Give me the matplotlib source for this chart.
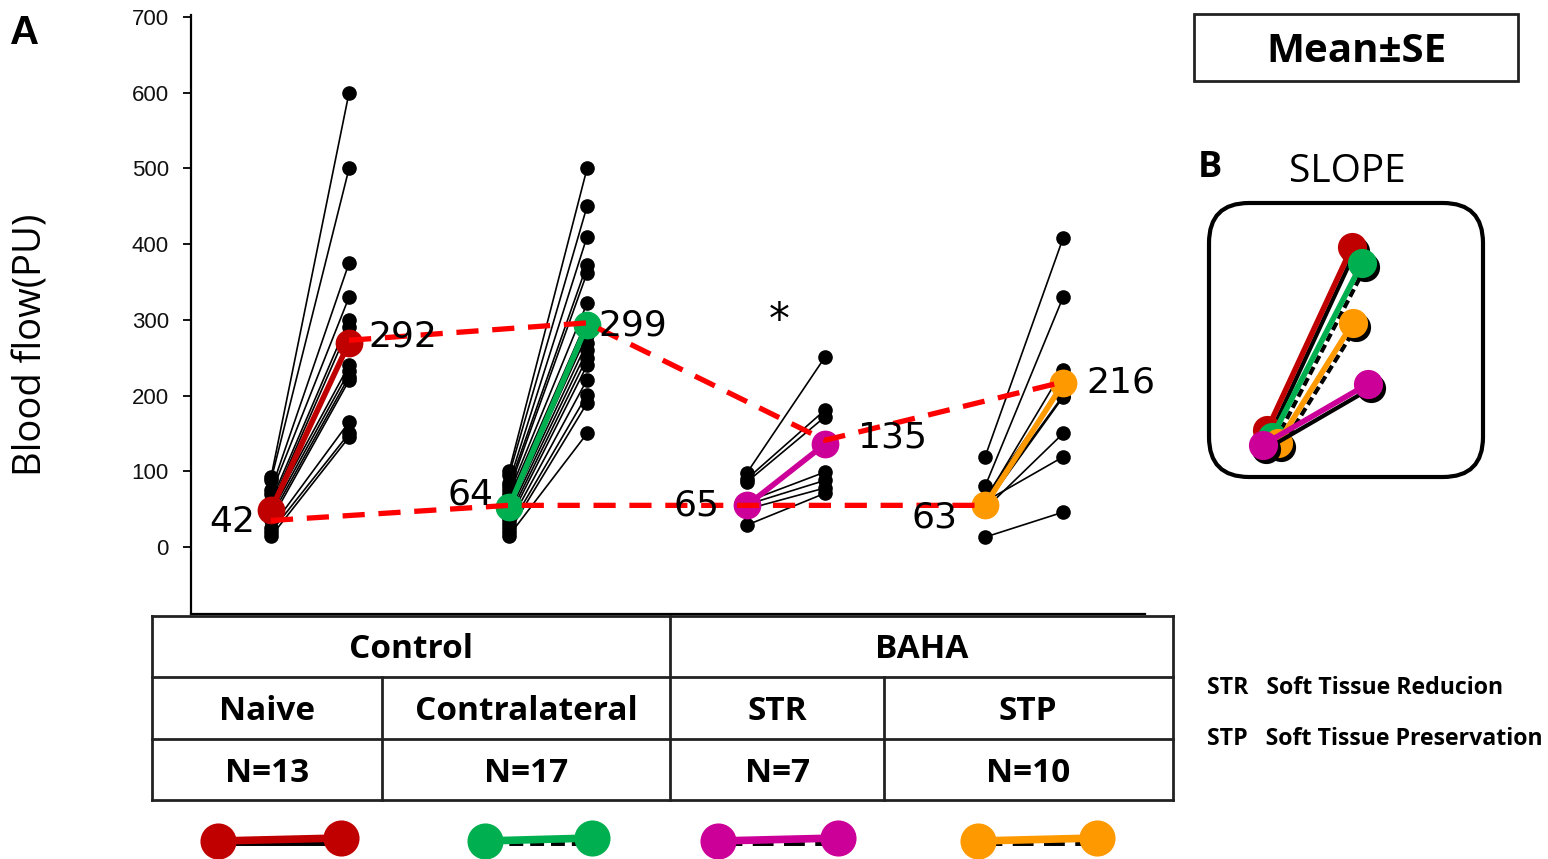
import matplotlib
matplotlib.use("Agg")
import matplotlib.pyplot as plt
from matplotlib.patches import FancyBboxPatch, Rectangle

# ---------------- data ----------------
groups = ["Naive", "Contralateral", "STR", "STP"]
group_n = ["N=13", "N=17", "N=7", "N=10"]
super_groups = ["Control", "BAHA"]
colors = ["#C00000", "#00B050", "#CC0099", "#FF9900"]

naive_pre = [92, 88, 75, 70, 60, 55, 50, 45, 40, 35, 25, 20, 14]
naive_post = [600, 500, 375, 330, 300, 290, 240, 232, 225, 220, 165, 150, 145]
contra_pre = [100, 95, 85, 80, 75, 70, 65, 60, 55, 50, 45, 40, 35, 30, 25, 20, 15]
contra_post = [500, 450, 410, 373, 362, 322, 300, 290, 280, 270, 260, 250, 240, 221, 201, 190, 150]
str_pre = [98, 90, 86, 60, 56, 50, 29]
str_post = [251, 181, 172, 99, 88, 78, 71]
stp_pre = [119, 80, 62, 56, 58, 55, 50, 60, 13, 65]
stp_post = [408, 330, 234, 220, 200, 198, 150, 119, 46, 215]
indiv_pre = [naive_pre, contra_pre, str_pre, stp_pre]
indiv_post = [naive_post, contra_post, str_post, stp_post]

mean_pre = [49, 53, 55, 55]
mean_post = [270, 293, 136, 216]
label_pre = ["42", "64", "65", "63"]
label_post = ["292", "299", "135", "216"]
trend_pre = [35, 55, 55, 55]
trend_post = [273, 296, 141, 218]

yticks = [0, 100, 200, 300, 400, 500, 600, 700]

# slope panel (panel units 0-100); drawing order: Naive, Contralateral, STP, STR
slope_order = [0, 1, 3, 2]
slope_x0 = [21.4, 23.2, 25.4, 19.9]
slope_y0 = [17.4, 14.9, 12.7, 12.0]
slope_x1 = [52.2, 55.8, 52.5, 58.0]
slope_y1 = [83.7, 77.9, 56.2, 34.1]

# ---------------- figure ----------------
W, H = 1548, 859
fig = plt.figure(figsize=(W / 100, H / 100), dpi=100)

ax = fig.add_axes([191 / W, 1 - 614 / H, (1145 - 191) / W, (614 - 15) / H])
ax.patch.set_alpha(0)
ax.set_xlim(-0.336, 3.672)
ax.set_ylim(-88.5, 702.6)
for s in ["top", "right"]:
    ax.spines[s].set_visible(False)
for s in ["left", "bottom"]:
    ax.spines[s].set_linewidth(1.6)
    ax.spines[s].set_color("black")
ax.set_xticks([])
ax.set_yticks(yticks)
ax.set_yticklabels([str(v) for v in yticks], fontfamily="Liberation Sans", fontsize=16, color="#111111")
ax.tick_params(axis="y", direction="out", length=6, width=1.3, pad=10)

dx = 0.328
for g in range(4):
    for a, b in zip(indiv_pre[g], indiv_post[g]):
        ax.plot([g, g + dx], [a, b], color="black", lw=1.2, marker="o", ms=9.5,
                markerfacecolor="black", markeredgecolor="black", zorder=2)
for g in range(4):
    ax.plot([g, g + dx], [mean_pre[g], mean_post[g]], color=colors[g], lw=4, marker="o",
            ms=20, markeredgewidth=0, zorder=4)

xs_pre = [g for g in range(4)]
xs_post = [g + dx for g in range(4)]
ax.plot(xs_pre, trend_pre, color="#FF0000", lw=3.8, ls=(0, (4.2, 2.6)), zorder=6)
ax.plot(xs_post, trend_post, color="#FF0000", lw=3.8, ls=(0, (4.2, 2.6)), zorder=6)

pre_off = [(-11, -9), (-11, 9), (-20, 0), (-20, -9)]
post_off = [(14, 4), (8, 0), (24, 5), (17, 1)]
for g in range(4):
    ax.annotate(label_pre[g], (g, mean_pre[g]), xytext=pre_off[g], textcoords="offset points",
                ha="right", va="center", fontsize=26, fontfamily="DejaVu Sans", zorder=7)
    ax.annotate(label_post[g], (g + dx, mean_post[g]), xytext=post_off[g], textcoords="offset points",
                ha="left", va="center", fontsize=26, fontfamily="DejaVu Sans", zorder=7)
ax.text(2.134, 298, "*", ha="center", va="center", fontsize=30, fontfamily="DejaVu Sans")

# ---------------- overlay (pixel coordinates) ----------------
ov = fig.add_axes([0, 0, 1, 1], zorder=5)
ov.patch.set_alpha(0)
ov.set_xlim(0, W)
ov.set_ylim(H, 0)
ov.axis("off")

tc = "#222222"
tlw = 2.0
for yy in [616, 677, 739, 800]:
    ov.plot([152, 1173], [yy, yy], color=tc, lw=tlw, solid_capstyle="projecting")
for xx in [152, 670, 1173]:
    ov.plot([xx, xx], [616, 800], color=tc, lw=tlw)
for xx in [382, 884]:
    ov.plot([xx, xx], [677, 800], color=tc, lw=tlw)

tf = dict(fontfamily="Open Sans", fontweight="bold", fontsize=24, ha="center", va="center")
ov.text(411, 649, super_groups[0], **tf)
ov.text(922, 649, super_groups[1], **tf)
col_c = [267, 526, 777, 1028]
for i in range(4):
    ov.text(col_c[i], 711, groups[i], **tf)
    ov.text(col_c[i], 773, group_n[i], **tf)

# legend icons under table
icon_l = [218, 485, 718, 978]
icon_r = [341, 592, 838, 1097]
icon_shadow = ["-", (0, (2, 1)), (0, (3, 1.5)), (0, (3, 1.5))]
for i in range(4):
    ov.plot([icon_l[i] + 3, icon_r[i] - 3], [842, 842], color="black", lw=5, ls=icon_shadow[i])
    ov.plot([icon_l[i], icon_r[i]], [841, 838], color=colors[i], lw=5.5)
    ov.plot([icon_l[i], icon_r[i]], [841, 838], ls="none", marker="o", ms=26,
            color=colors[i], markeredgewidth=0)

# Mean±SE box
ov.add_patch(Rectangle((1194, 14), 324, 67, fill=False, lw=2, edgecolor="#222222"))
ov.text(1356, 51, "Mean±SE", fontfamily="Open Sans", fontweight="bold", fontsize=29,
        ha="center", va="center")

ov.text(25, 33, "A", fontfamily="Liberation Sans", fontweight="bold", fontsize=29,
        ha="center", va="center")
ov.text(1210, 168, "B", fontfamily="Open Sans", fontweight="bold", fontsize=26,
        ha="center", va="center")
ov.text(1347, 172, "SLOPE", fontfamily="Open Sans", fontsize=28, ha="center", va="center")
ov.add_patch(FancyBboxPatch((1209, 203), 274, 274, boxstyle="round,pad=0,rounding_size=40",
                            fill=False, lw=3, edgecolor="black"))

ov.text(1207, 688, "STR   Soft Tissue Reducion", fontfamily="Open Sans", fontweight="bold",
        fontsize=16.7, ha="left", va="center")
ov.text(1207, 739, "STP   Soft Tissue Preservation", fontfamily="Open Sans", fontweight="bold",
        fontsize=16.7, ha="left", va="center")

fig.text(32 / W, 1 - 345 / H, "Blood flow(PU)", rotation=90, fontfamily="Open Sans",
         fontsize=27.5, ha="center", va="center")

# ---------------- slope panel ----------------
sp = fig.add_axes([1208 / W, 1 - 478 / H, 276 / W, 276 / H], zorder=6)
sp.patch.set_alpha(0)
sp.set_xlim(0, 100)
sp.set_ylim(0, 100)
sp.axis("off")
shadow_ls = ["-", (0, (2, 1)), (0, (2, 1)), "-"]
for k, g in enumerate(slope_order):
    sp.plot([slope_x0[k] + 1.2, slope_x1[k] + 1.2], [slope_y0[k] - 1.5, slope_y1[k] - 1.5],
            color="black", lw=3, ls=shadow_ls[k], marker="o", ms=21, markeredgewidth=0)
    sp.plot([slope_x0[k], slope_x1[k]], [slope_y0[k], slope_y1[k]], color=colors[g], lw=4,
            marker="o", ms=21, markeredgewidth=0)

fig.savefig("out.png", dpi=100)
